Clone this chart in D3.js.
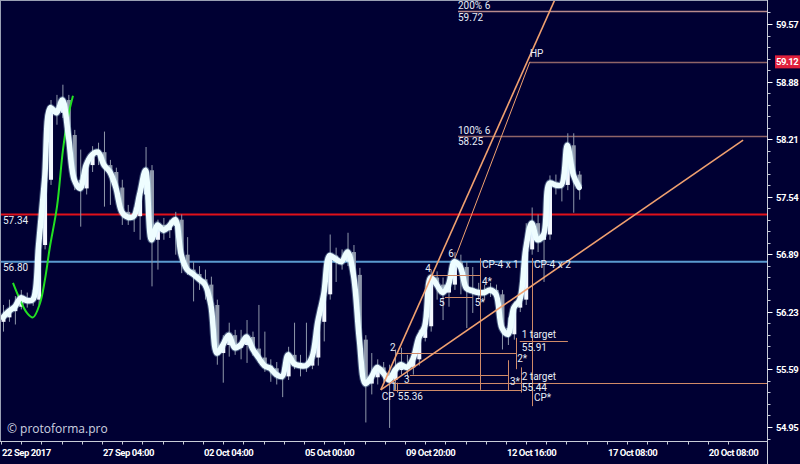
<!DOCTYPE html>
<html><head><meta charset="utf-8">
<script src="https://cdn.jsdelivr.net/npm/d3@7"></script>
<style>body{margin:0;background:#000033;}svg{display:block;}</style>
</head><body><svg id="c" width="800" height="464"></svg>
<script>
// ---------- DATA ----------
const firstOpen = 56.12;
const closes = [56.17,56.24,56.29,56.39,56.36,56.37,56.99,57.74,58.58,58.52,
58.67,58.26,57.74,57.64,57.91,58.03,58.06,57.91,57.83,57.65,
57.37,57.31,57.32,57.57,57.85,57.05,57.22,57.16,57.21,57.28,
56.88,56.71,56.66,56.60,56.54,56.31,55.77,55.86,55.97,55.83,
55.86,55.95,55.82,55.72,55.63,55.60,55.53,55.51,55.75,55.65,
55.63,55.63,55.72,56.12,56.43,56.87,56.83,56.80,56.91,56.65,
55.92,55.43,55.50,55.61,55.55,55.47,55.58,55.64,55.61,55.70,
55.94,56.07,56.62,56.54,56.45,56.54,56.80,56.74,56.50,56.47,
56.45,56.45,56.48,56.43,56.05,55.98,56.28,56.37,56.94,57.24,
57.05,57.11,57.70,57.68,57.68,58.14,57.80,57.65];
const highs = [56.31,56.37,56.41,56.48,56.45,56.48,57.05,57.85,58.67,58.73,
58.85,58.73,58.32,58.09,57.99,58.13,58.17,58.30,57.97,57.88,
57.74,57.45,57.42,57.62,58.12,57.91,57.28,57.30,57.28,57.37,
57.34,57.08,56.80,56.75,56.71,56.63,56.37,55.97,56.11,56.03,
56.03,56.14,56.01,56.31,56.01,55.70,55.67,55.61,55.84,56.11,
55.75,56.11,55.81,56.28,56.48,57.11,56.96,56.94,57.13,56.99,
56.73,55.97,55.77,55.70,55.67,55.64,55.81,55.83,55.75,55.79,
56.03,56.17,56.71,56.69,56.62,56.65,56.91,56.88,56.80,56.74,
56.56,56.54,56.56,56.54,56.48,56.17,56.35,56.45,57.24,57.42,
57.34,57.19,57.79,57.80,57.80,58.28,58.28,57.84];
const lows = [56.01,56.12,56.09,56.26,56.28,56.30,56.31,56.94,57.68,58.38,
58.46,58.20,57.62,57.20,57.57,57.83,57.91,57.43,57.45,57.51,
57.22,57.22,57.14,57.05,57.51,56.52,56.71,57.05,57.07,56.88,
56.67,56.65,56.35,56.48,56.37,56.23,55.64,55.44,55.73,55.75,
55.70,55.66,55.74,55.66,55.56,55.45,55.42,55.28,55.47,55.59,
55.51,55.56,55.59,55.63,55.90,56.37,56.57,56.71,56.75,56.60,
55.81,55.00,55.31,55.42,55.45,54.94,55.36,55.53,55.50,55.53,
55.63,55.90,56.01,56.37,56.14,56.29,56.48,56.43,56.05,56.22,
56.37,56.37,56.40,56.29,55.81,55.86,55.92,56.23,56.31,56.88,
56.91,56.57,57.05,57.57,57.49,57.62,57.36,57.51];
const opens = [firstOpen].concat(closes.slice(0, -1));

const timeLabels = ["22 Sep 2017","27 Sep 04:00","02 Oct 04:00","05 Oct 00:00","09 Oct 20:00","12 Oct 16:00","17 Oct 08:00","20 Oct 08:00"];
const timeLabelIdx = [0,17,34,51,68,85,102,119];
const priceTicks = [59.57,58.88,58.21,57.54,56.89,56.23,55.59,54.95];
const markerPrice = 59.12;

// green curve (index, price)
const greenCurve = [[1.68,56.56],[2.86,56.37],[4.04,56.22],[5.05,56.17],[6.23,56.33],[7.07,56.60],[7.9,56.97],[9.09,57.43],[10.1,58.09],[10.94,58.47],[11.78,58.72]];

// horizontal full-width levels
const redLevel = 57.34, blueLevel = 56.80;

// pivots
const pivotNames = ["CP","1","2","3","4","5","6","HP"];
const pivotIdx   = [63.6,66.3,66.3,68.5,72.4,74.4,76.1,88.7];
const pivotPrice = [55.36,55.36,55.77,55.52,56.65,56.40,56.84,59.12];

// trend lines [i1,p1,i2,p2]
const trendLines = [[63.6,55.36,92.9,59.86],[76.1,56.84,88.7,59.12],[63.6,55.36,124.6,58.20]];

// projection levels: price, from index, to index (null = right edge)
const projLevels = [[55.77,66.3,86.4],[55.52,68.5,85.0],[56.65,72.4,80.3],[56.40,74.4,79.1],[55.36,65.7,87.4],[55.44,65.7,null],[55.91,87.0,95.1]];
// verticals: index, price top, price bottom
const projVerticals = [[66.3,55.44,55.33],[80.3,56.84,55.36],[89.06,56.84,55.18],[86.4,55.94,55.59],[85.0,55.69,55.35],[87.2,55.61,55.33]];
// target levels top: price, from index, label
const topLevels = [[59.72,76.6,"200% 6"],[59.12,88.7,null],[58.25,76.6,"100% 6"]];

// ---------- DRAW ----------
const W = 800, H = 464, PR = 767.5, PB = 441.5;
const bg = "#000033";
const svg = d3.select("#c");
svg.append("rect").attr("width", W).attr("height", H).attr("fill", bg);

const x = d3.scaleLinear().domain([0, 123]).range([3, 3 + 123 * 5.94]);
const y = d3.scaleLog().domain([54.95, 59.57]).range([427, 24]);

svg.append("defs").append("clipPath").attr("id", "plot")
  .append("rect").attr("x", 1).attr("y", 1).attr("width", PR - 1).attr("height", PB - 1);
const g = svg.append("g").attr("clip-path", "url(#plot)");

const axisFont = "Roboto,'Liberation Sans',sans-serif";
const txtFont = "Roboto,'Liberation Sans',sans-serif";

// full width levels
g.append("line").attr("x1", 0).attr("x2", PR).attr("y1", y(redLevel)).attr("y2", y(redLevel))
  .attr("stroke", "#e0101a").attr("stroke-width", 2);
g.append("line").attr("x1", 0).attr("x2", PR).attr("y1", y(blueLevel)).attr("y2", y(blueLevel))
  .attr("stroke", "#5a9ad0").attr("stroke-width", 2);

// top levels
topLevels.forEach(([p, i]) => {
  g.append("line").attr("x1", x(i)).attr("x2", PR).attr("y1", Math.round(y(p)) + 0.5).attr("y2", Math.round(y(p)) + 0.5)
    .attr("stroke", p > 59.5 ? "#b88a8c" : "#8f6468").attr("stroke-width", 1.5);
});

// candles
const cw = 4;
const cg = g.append("g");
closes.forEach((c, i) => {
  const o = opens[i], up = c >= o;
  const col = up ? "#f4f8ff" : "#8e97aa";
  cg.append("line").attr("x1", x(i) + 0.5).attr("x2", x(i) + 0.5).attr("y1", y(highs[i])).attr("y2", y(lows[i]))
    .attr("stroke", "#8e97aa").attr("stroke-width", 1);
  const t = y(Math.max(o, c)), b = y(Math.min(o, c));
  cg.append("rect").attr("x", x(i) - cw / 2 + 0.5).attr("y", t).attr("width", cw).attr("height", Math.max(1, b - t))
    .attr("fill", col);
});

// green curve
g.append("path").datum(greenCurve)
  .attr("d", d3.line().x(d => x(d[0])).y(d => y(d[1])).curve(d3.curveCatmullRom.alpha(0.5)))
  .attr("fill", "none").attr("stroke", "#22e022").attr("stroke-width", 2);

// smoothed close line
const lineGen = d3.line().x((d, i) => x(i)).y(d => y(d)).curve(d3.curveCatmullRom.alpha(0.5));
g.append("path").datum(closes).attr("d", lineGen).attr("fill", "none")
  .attr("stroke", "#bfefff").attr("stroke-opacity", 0.35).attr("stroke-width", 7.5).attr("stroke-linejoin", "round");
g.append("path").datum(closes).attr("d", lineGen).attr("fill", "none")
  .attr("stroke", "#eefdff").attr("stroke-width", 5.5).attr("stroke-linejoin", "round").attr("stroke-linecap", "round");

// projection levels & verticals
const projCol = "#d08a68";
projLevels.forEach(([p, i1, i2]) => {
  const yy = Math.round(y(p)) + 0.5;
  g.append("line").attr("x1", x(i1)).attr("x2", i2 == null ? PR : x(i2)).attr("y1", yy).attr("y2", yy)
    .attr("stroke", projCol).attr("stroke-width", 1);
});
projVerticals.forEach(([i, p1, p2]) => {
  const xx = Math.round(x(i)) + 0.5;
  g.append("line").attr("x1", xx).attr("x2", xx).attr("y1", y(p1)).attr("y2", y(p2))
    .attr("stroke", projCol).attr("stroke-width", 1);
});

// trend lines
trendLines.forEach(([i1, p1, i2, p2], k) => {
  g.append("line").attr("x1", x(i1)).attr("y1", y(p1)).attr("x2", x(i2)).attr("y2", y(p2))
    .attr("stroke", "#f0a070").attr("stroke-width", k === 1 ? 1 : 1.6);
});

// ---------- TEXT ----------
function txt(sx, sy, s, opts = {}) {
  return svg.append("text").attr("x", sx).attr("y", sy).text(s)
    .attr("font-family", opts.font || txtFont).attr("font-size", opts.size || 10)
    .attr("font-weight", opts.weight || "normal")
    .attr("letter-spacing", opts.ls || 0)
    .attr("fill", opts.fill || "#e6ecf6").attr("text-anchor", opts.anchor || "start")
    .attr("dominant-baseline", "central");
}

// left level labels
txt(3, y(redLevel) + 6, redLevel.toFixed(2));
txt(3, y(blueLevel) + 6, blueLevel.toFixed(2));

// top level labels
topLevels.forEach(([p, i, lab]) => {
  if (!lab) return;
  txt(x(i), y(p) - 5.5, lab);
  txt(x(i), y(p) + 6, p.toFixed(2));
});

// pivot labels
const pivOff = {"CP":[1,7,"start"],"1":[-3,-3,"middle"],"2":[-4,-6,"middle"],"3":[-3,4,"middle"],"4":[-5,-6,"middle"],"5":[-3,6,"middle"],"6":[-4,-5,"middle"],"HP":[0,-8,"start"]};
pivotNames.forEach((n, k) => {
  const o = pivOff[n];
  txt(x(pivotIdx[k]) + o[0], y(pivotPrice[k]) + o[1], n, {anchor: o[2]});
});
txt(x(pivotIdx[0]) + 17, y(pivotPrice[0]) + 7, pivotPrice[0].toFixed(2));

// projection labels
txt(x(80.3) + 2, y(blueLevel) + 3, "CP-4 x 1");
txt(x(89.06) + 2, y(blueLevel) + 3, "CP-4 x 2");
txt(x(80.3) + 2, y(56.65) + 7, "4*");
txt(x(79.1) + 2, y(56.40) + 6, "5*");
txt(x(86.4) + 1, y(55.77) + 5, "2*");
txt(x(85.0) + 2, y(55.52) + 6, "3*");
txt(x(87.0) + 2, y(55.91) - 6, "1 target");
txt(x(87.0) + 2, y(55.91) + 7, "55.91");
txt(x(87.0) + 2, y(55.44) - 6, "2 target");
txt(x(87.0) + 2, y(55.44) + 5, "55.44");
txt(x(89.06) + 2, y(55.36) + 8, "CP*");

// watermark
txt(7, 428, "© protoforma.pro", {size: 12, font: "'Open Sans','Noto Sans',sans-serif", fill: "#cfd3e0"});

// ---------- AXES ----------
const axCol = "#c8ccd8";
svg.append("line").attr("x1", 0).attr("x2", PR).attr("y1", 0.5).attr("y2", 0.5).attr("stroke", "#9aa0b4");
svg.append("line").attr("x1", 0.5).attr("x2", 0.5).attr("y1", 0).attr("y2", PB).attr("stroke", "#9aa0b4");
svg.append("line").attr("x1", 0).attr("x2", PR).attr("y1", PB).attr("y2", PB).attr("stroke", axCol);
svg.append("line").attr("x1", PR).attr("x2", PR).attr("y1", 0).attr("y2", H).attr("stroke", axCol);

// right axis ticks
const tickYs = priceTicks.map(v => y(v));
const step = (tickYs[tickYs.length - 1] - tickYs[0]) / (tickYs.length - 1) / 5;
const minorYs = [];
for (let k = -1; k <= (tickYs.length - 1) * 5 + 1; k++) if (k % 5 !== 0) minorYs.push(tickYs[0] + k * step);
minorYs.forEach(v => svg.append("line").attr("x1", PR).attr("x2", PR + 3).attr("y1", Math.round(v) + 0.5).attr("y2", Math.round(v) + 0.5).attr("stroke", axCol));
const axOpts = {font: axisFont, weight: "bold", fill: "#ffffff", size: 9.5, ls: -0.45};
priceTicks.forEach(v => {
  const yy = Math.round(y(v)) + 0.5;
  svg.append("line").attr("x1", PR).attr("x2", PR + 5).attr("y1", yy).attr("y2", yy).attr("stroke", "#ffffff");
  txt(PR + 8.5, yy, v.toFixed(2), axOpts);
});
// current price marker
svg.append("rect").attr("x", PR + 7.5).attr("y", y(markerPrice) - 6.5).attr("width", 25).attr("height", 13).attr("fill", "#e0203c");
txt(PR + 8.5, y(markerPrice), markerPrice.toFixed(2), axOpts);

// bottom axis ticks
for (let m = 0; m * 3.4 <= 123; m++) {
  const xx = Math.round(x(m * 3.4) - 2) + 0.5;
  if (xx > PR) break;
  svg.append("line").attr("x1", xx).attr("x2", xx).attr("y1", PB).attr("y2", PB + 3).attr("stroke", axCol);
}
timeLabels.forEach((lab, k) => {
  txt(x(timeLabelIdx[k]) - 1, 452, lab, axOpts);
});
</script>
</body></html>
